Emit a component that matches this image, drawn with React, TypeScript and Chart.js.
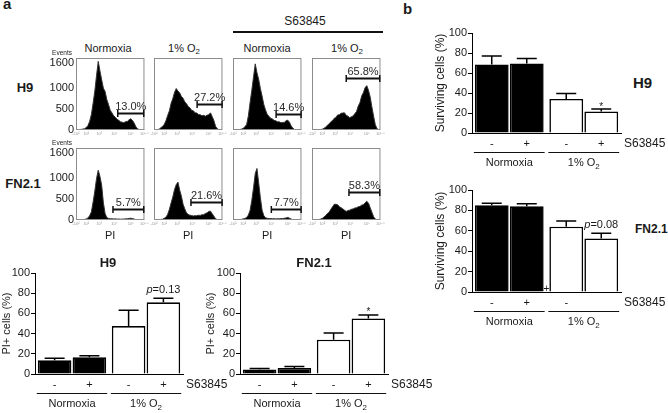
import React, { useEffect, useRef } from "react";
import { Chart, registerables } from "chart.js";
Chart.register(...registerables);

const FONT = '"Liberation Sans", Arial, Helvetica, sans-serif';
const INK = "#1a1a1a";

// ---------------- Flow cytometry histograms (events per PI bin, 41 bins) ----------------
const histH9Normoxia = [0, 5, 12, 14, 22, 30, 60, 105, 210, 370, 640, 930, 1300, 1640, 1410, 1200, 1000, 920, 730, 610, 470, 410, 340, 305, 255, 230, 195, 185, 175, 200, 205, 245, 270, 230, 165, 75, 28, 8, 3, 0, 0];
const histH9Hypoxia = [0, 5, 12, 18, 55, 85, 135, 225, 350, 460, 640, 750, 900, 990, 930, 890, 800, 760, 670, 630, 560, 530, 470, 460, 410, 405, 370, 365, 340, 350, 330, 355, 365, 410, 320, 225, 85, 32, 5, 0, 0];
const histH9SNormoxia = [0, 3, 6, 8, 13, 20, 42, 78, 135, 340, 660, 950, 1270, 1580, 1370, 1210, 990, 810, 610, 480, 370, 330, 280, 265, 230, 220, 195, 195, 175, 180, 180, 225, 235, 185, 95, 42, 10, 3, 0, 0, 0];
const histH9SHypoxia = [0, 0, 2, 5, 6, 12, 18, 42, 68, 115, 145, 195, 225, 280, 300, 360, 365, 400, 405, 410, 350, 330, 295, 315, 335, 390, 440, 570, 650, 810, 890, 1010, 1060, 950, 790, 550, 330, 125, 32, 5, 0];
const histFnNormoxia = [0, 3, 6, 7, 11, 14, 26, 48, 105, 195, 430, 690, 990, 1190, 1040, 830, 410, 155, 58, 38, 28, 30, 24, 27, 20, 24, 19, 22, 21, 27, 28, 37, 42, 33, 22, 9, 5, 0, 0, 0, 0];
const histFnHypoxia = [0, 3, 6, 8, 13, 19, 42, 68, 135, 255, 410, 550, 730, 845, 905, 715, 570, 375, 265, 165, 135, 112, 108, 96, 104, 102, 114, 110, 125, 128, 155, 170, 205, 212, 148, 92, 28, 8, 0, 0, 0];
const histFnSNormoxia = [0, 3, 6, 7, 11, 14, 27, 38, 62, 118, 235, 470, 770, 1110, 1230, 890, 530, 235, 105, 52, 42, 33, 34, 28, 32, 26, 30, 28, 33, 33, 42, 48, 62, 43, 22, 8, 3, 0, 0, 0, 0];
const histFnSHypoxia = [0, 0, 3, 6, 9, 22, 38, 72, 105, 155, 185, 255, 315, 375, 375, 365, 315, 295, 265, 235, 205, 225, 235, 255, 265, 285, 295, 315, 325, 355, 365, 410, 445, 405, 295, 185, 78, 22, 5, 0, 0];

const histPercent = ["13.0%", "27.2%", "14.6%", "65.8%", "5.7%", "21.6%", "7.7%", "58.3%"];
const bracketStart = [24.4, 25.2, 25.2, 20, 21.6, 21.6, 22.4, 21.6];
const bracketEnd = [39.6, 39.8, 39.8, 39.6, 39.6, 39.8, 39.8, 39.6];
const bracketLevel = [412, 630, 390, 1240, 263, 430, 263, 670];

const histYTicks = [0, 500, 1000, 1600];
const histXTickBins = [0, 6, 13.6, 22.4, 32, 40];
const histXTickLabels = ["-10²", "10²", "10³", "10⁴", "10⁵", "10⁵·⁵"];

const columnTitles = ["Normoxia", "1% O₂", "Normoxia", "1% O₂"];
const rowTitles = ["H9", "FN2.1"];

// ---------------- Bar charts ----------------
const conditions = ["Normoxia", "1% O₂"];
const drugName = "S63845";
const drugSigns = ["-", "+"];

const piH9Minus = [13.5, 47.5];
const piH9MinusErr = [2, 15.5];
const piH9Plus = [16.5, 71];
const piH9PlusErr = [1.5, 4];

const piFnMinus = [4.5, 34];
const piFnMinusErr = [1, 6.5];
const piFnPlus = [6, 55];
const piFnPlusErr = [1.5, 3.5];

const survH9Minus = [68.5, 34];
const survH9MinusErr = [8.5, 5.5];
const survH9Plus = [69.5, 21.5];
const survH9PlusErr = [5, 2.5];

const survFnMinus = [85, 64];
const survFnMinusErr = [2, 5.5];
const survFnPlus = [84, 52.5];
const survFnPlusErr = [2.5, 5];

const BAR_FILLS = ["#000000", "#ffffff"];

// ---------------- helpers ----------------
function drawCond(ctx: CanvasRenderingContext2D, text: string, cx: number, cy: number, size: number) {
  const idx = text.indexOf("₂");
  ctx.textBaseline = "middle";
  if (idx < 0) {
    ctx.font = `${size}px ${FONT}`;
    ctx.textAlign = "center";
    ctx.fillText(text, cx, cy);
    return;
  }
  const main = text.slice(0, idx);
  ctx.font = `${size}px ${FONT}`;
  const w1 = ctx.measureText(main).width;
  const small = Math.round(size * 0.72);
  ctx.font = `${small}px ${FONT}`;
  const w2 = ctx.measureText("2").width;
  const x0 = cx - (w1 + w2) / 2;
  ctx.textAlign = "left";
  ctx.font = `${size}px ${FONT}`;
  ctx.fillText(main, x0, cy);
  ctx.font = `${small}px ${FONT}`;
  ctx.fillText("2", x0 + w1, cy + size * 0.32);
}

function T(props: { x: number; y: number; size?: number; bold?: boolean; align?: "left" | "center"; children: any }) {
  const size = props.size ?? 11;
  return (
    <div
      style={{
        position: "absolute",
        left: props.x,
        top: props.y - size * 0.8465,
        fontSize: size,
        lineHeight: `${size}px`,
        fontWeight: props.bold ? 700 : 400,
        whiteSpace: "nowrap",
        transform: props.align === "center" ? "translateX(-50%)" : undefined,
      }}
    >
      {props.children}
    </div>
  );
}

function O2Text({ text }: { text: string }) {
  const idx = text.indexOf("₂");
  if (idx < 0) return <>{text}</>;
  return (
    <>
      {text.slice(0, idx)}
      <span style={{ fontSize: "0.72em", position: "relative", top: "0.3em" }}>2</span>
    </>
  );
}

// ---------------- Histogram component ----------------
const H_PAD_TOP = 14;
const H_YW = 36;
const H_W = 70;
const H_H = 72;

function Histogram(props: { left: number; top: number; values: number[]; idx: number; showY: boolean; showPI: boolean }) {
  const ref = useRef<HTMLCanvasElement>(null);
  const xh = props.showPI ? 24 : 10;
  const cw = H_YW + H_W + 4;
  const ch = H_PAD_TOP + H_H + xh;
  useEffect(() => {
    const i = props.idx;
    const plugin = {
      id: "histDecor",
      afterDraw(chart: any) {
        const { ctx, chartArea: a, scales } = chart;
        const xs = scales.x;
        const ys = scales.y;
        ctx.save();
        ctx.strokeStyle = "#8c8c8c";
        ctx.lineWidth = 1;
        ctx.strokeRect(a.left + 0.5, a.top + 0.5, a.right - a.left - 1, a.bottom - a.top - 1);
        const x1 = xs.getPixelForValue(bracketStart[i]);
        const x2 = xs.getPixelForValue(bracketEnd[i]);
        const yy = Math.round(ys.getPixelForValue(bracketLevel[i])) + 0.5;
        ctx.strokeStyle = "#111";
        ctx.lineWidth = 2;
        ctx.beginPath();
        ctx.moveTo(x1, yy);
        ctx.lineTo(x2, yy);
        ctx.stroke();
        ctx.lineWidth = 1.5;
        ctx.beginPath();
        ctx.moveTo(x1, yy - 3.5);
        ctx.lineTo(x1, yy + 3.5);
        ctx.moveTo(x2, yy - 3.5);
        ctx.lineTo(x2, yy + 3.5);
        ctx.stroke();
        ctx.fillStyle = "#2a2a2a";
        ctx.font = `11px ${FONT}`;
        ctx.textAlign = "center";
        ctx.textBaseline = "alphabetic";
        ctx.fillText(histPercent[i], (x1 + x2) / 2, yy - 3.5);
        if (props.showY) {
          ctx.fillStyle = INK;
          ctx.font = `6.5px ${FONT}`;
          ctx.textBaseline = "middle";
          ctx.fillText("Events", a.left - 14, a.top - 5);
        }
        ctx.restore();
      },
    };
    const chart = new Chart(ref.current as HTMLCanvasElement, {
      type: "line",
      data: {
        datasets: [
          {
            data: props.values.map((v, k) => ({ x: k, y: v })),
            fill: "origin",
            backgroundColor: "#000",
            borderColor: "#333",
            borderWidth: 1,
            pointRadius: 0,
            tension: 0,
          },
        ],
      },
      options: {
        animation: false,
        responsive: false,
        events: [],
        layout: { padding: { top: H_PAD_TOP, right: 4, left: 0, bottom: 0 } },
        plugins: { legend: { display: false }, tooltip: { enabled: false } },
        scales: {
          x: {
            type: "linear",
            min: 0,
            max: 40,
            afterFit: (s: any) => {
              s.height = xh;
            },
            afterBuildTicks: (s: any) => {
              s.ticks = histXTickBins.map((v) => ({ value: v }));
            },
            ticks: {
              autoSkip: false,
              maxRotation: 0,
              padding: 1,
              color: "#9a9a9a",
              font: { size: 4, family: FONT },
              callback: (_v: any, k: number) => histXTickLabels[k],
            },
            grid: { display: false, drawTicks: false },
            border: { display: false },
            title: {
              display: props.showPI,
              text: "PI",
              color: INK,
              font: { size: 11, family: FONT },
              padding: { top: 0, bottom: 1 },
            },
          },
          y: {
            min: 0,
            max: 1720,
            afterFit: (s: any) => {
              s.width = H_YW;
            },
            afterBuildTicks: (s: any) => {
              s.ticks = histYTicks.map((v) => ({ value: v }));
            },
            ticks: {
              display: props.showY,
              padding: 2,
              color: INK,
              font: { size: 11, family: FONT },
              callback: (v: any) => String(v),
            },
            grid: { display: false, drawTicks: false },
            border: { display: false },
          },
        },
      } as any,
      plugins: [plugin],
    });
    return () => chart.destroy();
  }, []);
  return (
    <canvas
      ref={ref}
      width={cw}
      height={ch}
      style={{ position: "absolute", left: props.left - H_YW, top: props.top - H_PAD_TOP, width: cw, height: ch }}
    />
  );
}

// ---------------- Bar chart component ----------------
type Annot = { cat: number; ds: number; text: string };

function BarChart(props: {
  left: number;
  top: number;
  width: number;
  height: number;
  padTop: number;
  padRight: number;
  yWidth: number;
  xHeight: number;
  titlePad: number;
  titleSize: number;
  yTitle: string;
  minus: number[];
  minusErr: number[];
  plus: number[];
  plusErr: number[];
  signs: string[][];
  annot: Annot;
  strayPlus?: boolean;
}) {
  const ref = useRef<HTMLCanvasElement>(null);
  useEffect(() => {
    const vals = [props.minus, props.plus];
    const errs = [props.minusErr, props.plusErr];
    const plugin = {
      id: "barDecor",
      afterDatasetsDraw(chart: any) {
        const { ctx, scales } = chart;
        const ys = scales.y;
        ctx.save();
        ctx.strokeStyle = "#000";
        ctx.lineWidth = 1.5;
        for (let d = 0; d < 2; d++) {
          const meta = chart.getDatasetMeta(d);
          meta.data.forEach((el: any, c: number) => {
            const topPx = ys.getPixelForValue(vals[d][c] + errs[d][c]);
            ctx.beginPath();
            ctx.moveTo(el.x, el.y);
            ctx.lineTo(el.x, topPx);
            ctx.moveTo(el.x - 10, topPx);
            ctx.lineTo(el.x + 10, topPx);
            ctx.stroke();
          });
        }
        ctx.restore();
      },
      afterDraw(chart: any) {
        const { ctx, chartArea: a, scales } = chart;
        const ys = scales.y;
        ctx.save();
        ctx.fillStyle = INK;
        ctx.strokeStyle = "#111";
        const m0 = chart.getDatasetMeta(0);
        const m1 = chart.getDatasetMeta(1);
        ctx.font = `11px ${FONT}`;
        ctx.textAlign = "center";
        ctx.textBaseline = "middle";
        for (let c = 0; c < conditions.length; c++) {
          [m0, m1].forEach((m: any, d: number) => {
            const el = m.data[c];
            const s = props.signs[c][d];
            if (s) ctx.fillText(s, el.x, a.bottom + 11);
          });
        }
        ctx.textAlign = "left";
        ctx.font = `12px ${FONT}`;
        ctx.fillText(drugName, a.right + 3, a.bottom + 11);
        ctx.lineWidth = 1.2;
        for (let c = 0; c < conditions.length; c++) {
          const e0: any = m0.data[c];
          const e1: any = m1.data[c];
          const l = e0.x - e0.width / 2 - 1;
          const r = e1.x + e1.width / 2 + 1;
          const ly = Math.round(a.bottom + 19) + 0.5;
          ctx.beginPath();
          ctx.moveTo(l, ly);
          ctx.lineTo(r, ly);
          ctx.stroke();
          ctx.fillStyle = INK;
          drawCond(ctx, conditions[c], (l + r) / 2, a.bottom + 30, 11);
        }
        const an = props.annot;
        const el: any = chart.getDatasetMeta(an.ds).data[an.cat];
        const topPx = ys.getPixelForValue(vals[an.ds][an.cat] + errs[an.ds][an.cat]);
        ctx.textBaseline = "alphabetic";
        if (an.text.startsWith("p")) {
          const rest = an.text.slice(1);
          ctx.font = `italic 11px ${FONT}`;
          const w1 = ctx.measureText("p").width;
          ctx.font = `11px ${FONT}`;
          const w2 = ctx.measureText(rest).width;
          const x0 = el.x - (w1 + w2) / 2;
          ctx.textAlign = "left";
          ctx.font = `italic 11px ${FONT}`;
          ctx.fillText("p", x0, topPx - 5);
          ctx.font = `11px ${FONT}`;
          ctx.fillText(rest, x0 + w1, topPx - 5);
        } else {
          ctx.textAlign = "center";
          ctx.font = `10px ${FONT}`;
          ctx.fillText(an.text, el.x, topPx + 0.5);
        }
        if (props.strayPlus) {
          const e1: any = m1.data[0];
          const e2: any = m0.data[1];
          const sx = (e1.x + e1.width / 2 + e2.x - e2.width / 2) / 2;
          ctx.textAlign = "center";
          ctx.font = `10px ${FONT}`;
          ctx.fillText("+", sx, a.bottom);
        }
        ctx.restore();
      },
    };
    const chart = new Chart(ref.current as HTMLCanvasElement, {
      type: "bar",
      data: {
        labels: conditions,
        datasets: [
          { label: drugSigns[0], data: props.minus, backgroundColor: BAR_FILLS, borderColor: "#000", borderWidth: 1.6 },
          { label: drugSigns[1], data: props.plus, backgroundColor: BAR_FILLS, borderColor: "#000", borderWidth: 1.6 },
        ],
      },
      options: {
        animation: false,
        responsive: false,
        events: [],
        layout: { padding: { top: props.padTop, right: props.padRight, left: 0, bottom: 0 } },
        datasets: { bar: { categoryPercentage: 0.94, barPercentage: 0.965 } },
        plugins: { legend: { display: false }, tooltip: { enabled: false } },
        scales: {
          x: {
            afterFit: (s: any) => {
              s.height = props.xHeight;
            },
            ticks: { display: false },
            grid: { display: false, drawTicks: false },
            border: { display: true, color: "#000", width: 1 },
          },
          y: {
            min: 0,
            max: 100,
            afterFit: (s: any) => {
              s.width = props.yWidth;
            },
            ticks: { stepSize: 20, padding: 1, color: INK, font: { size: 11, family: FONT } },
            grid: { drawOnChartArea: false, drawTicks: true, tickLength: 4, color: "#000", lineWidth: 1 },
            border: { display: true, color: "#000", width: 1 },
            title: {
              display: true,
              text: props.yTitle,
              color: INK,
              font: { size: props.titleSize, family: FONT },
              padding: { top: props.titlePad, bottom: 0 },
            },
          },
        },
      } as any,
      plugins: [plugin],
    });
    return () => chart.destroy();
  }, []);
  return (
    <canvas
      ref={ref}
      width={props.width}
      height={props.height}
      style={{ position: "absolute", left: props.left, top: props.top, width: props.width, height: props.height }}
    />
  );
}

const histSeries = [
  histH9Normoxia,
  histH9Hypoxia,
  histH9SNormoxia,
  histH9SHypoxia,
  histFnNormoxia,
  histFnHypoxia,
  histFnSNormoxia,
  histFnSHypoxia,
];
const HIST_LEFTS = [76, 154, 233, 312];
const HIST_TOPS = [58, 148];
const COL_TITLE_X = [108, 184, 267, 347];

export default function App() {
  useEffect(() => {
    document.body.style.margin = "0";
  }, []);
  return (
    <div
      style={{
        position: "absolute",
        left: 0,
        top: 0,
        width: 668,
        height: 413,
        background: "#fff",
        overflow: "hidden",
        fontFamily: FONT,
        color: INK,
      }}
    >
      <T x={3} y={9} size={15} bold>
        a
      </T>
      <T x={403} y={13.5} size={15} bold>
        b
      </T>
      <T x={305} y={25} size={12} align="center">
        {drugName}
      </T>
      <div style={{ position: "absolute", left: 233, top: 31, width: 150, height: 1.5, background: "#111" }} />
      {columnTitles.map((t, k) => (
        <T key={k} x={COL_TITLE_X[k]} y={52} size={11} align="center">
          <O2Text text={t} />
        </T>
      ))}
      <T x={25} y={92} size={13} bold align="center">
        {rowTitles[0]}
      </T>
      <T x={23} y={188} size={13} bold align="center">
        {rowTitles[1]}
      </T>

      {histSeries.map((vals, k) => (
        <Histogram
          key={k}
          idx={k}
          values={vals}
          left={HIST_LEFTS[k % 4]}
          top={HIST_TOPS[Math.floor(k / 4)]}
          showY={k % 4 === 0}
          showPI={k >= 4}
        />
      ))}

      <T x={108} y={267} size={13} bold align="center">
        {rowTitles[0]}
      </T>
      <T x={314} y={267} size={13} bold align="center">
        {rowTitles[1]}
      </T>
      <T x={633} y={88} size={15} bold>
        {rowTitles[0]}
      </T>
      <T x={635} y={233} size={12} bold>
        {rowTitles[1]}
      </T>

      <BarChart
        left={0}
        top={255}
        width={230}
        height={158}
        padTop={18}
        padRight={47}
        yWidth={35}
        xHeight={39}
        titlePad={0}
        titleSize={11}
        yTitle="PI+ cells (%)"
        minus={piH9Minus}
        minusErr={piH9MinusErr}
        plus={piH9Plus}
        plusErr={piH9PlusErr}
        signs={[drugSigns, drugSigns]}
        annot={{ cat: 1, ds: 1, text: "p=0.13" }}
      />
      <BarChart
        left={200}
        top={255}
        width={240}
        height={158}
        padTop={18}
        padRight={52}
        yWidth={40}
        xHeight={39}
        titlePad={4}
        titleSize={11}
        yTitle="PI+ cells (%)"
        minus={piFnMinus}
        minusErr={piFnMinusErr}
        plus={piFnPlus}
        plusErr={piFnPlusErr}
        signs={[drugSigns, drugSigns]}
        annot={{ cat: 1, ds: 1, text: "*" }}
      />
      <BarChart
        left={430}
        top={15}
        width={238}
        height={160}
        padTop={18}
        padRight={47}
        yWidth={42}
        xHeight={42}
        titlePad={3.5}
        titleSize={12}
        yTitle="Surviving cells (%)"
        minus={survH9Minus}
        minusErr={survH9MinusErr}
        plus={survH9Plus}
        plusErr={survH9PlusErr}
        signs={[drugSigns, drugSigns]}
        annot={{ cat: 1, ds: 1, text: "*" }}
      />
      <BarChart
        left={430}
        top={172}
        width={238}
        height={160}
        padTop={18}
        padRight={47}
        yWidth={42}
        xHeight={40}
        titlePad={3.5}
        titleSize={12}
        yTitle="Surviving cells (%)"
        minus={survFnMinus}
        minusErr={survFnMinusErr}
        plus={survFnPlus}
        plusErr={survFnPlusErr}
        signs={[drugSigns, [drugSigns[0], ""]]}
        annot={{ cat: 1, ds: 1, text: "p=0.08" }}
        strayPlus
      />
    </div>
  );
}
